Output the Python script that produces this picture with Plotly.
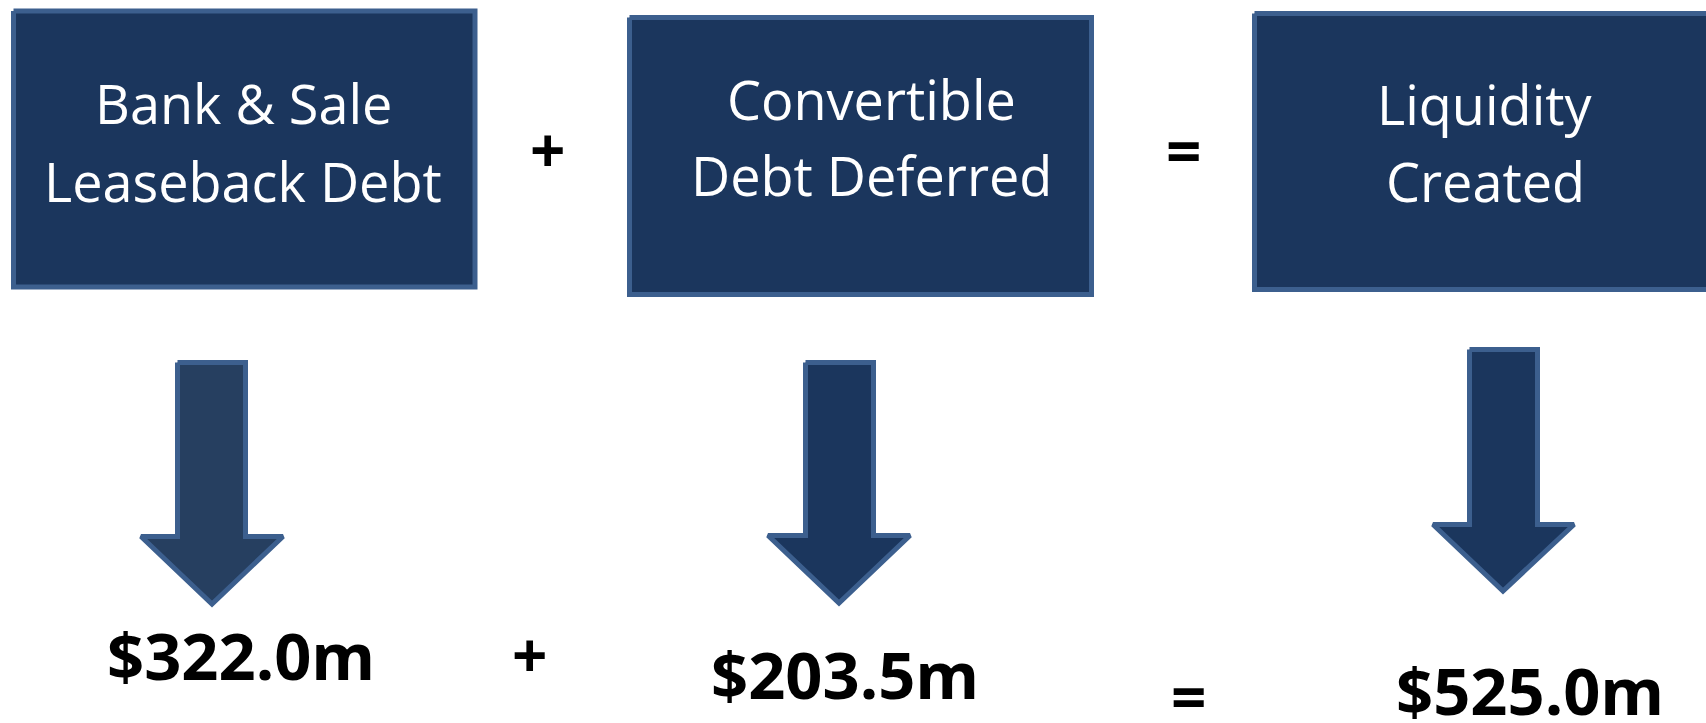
import plotly.graph_objects as go

# ---- data ----
labels = [["Bank & Sale", "Leaseback Debt"],
          ["Convertible", "Debt Deferred"],
          ["Liquidity", "Created"]]
amounts = [322.0, 203.5, 525.0]          # $ millions
operators = ["+", "="]

# ---- layout geometry (pixels, y downward) ----
W, H = 1706, 723
boxes = [(13.5, 475, 11, 287), (629.5, 1091.5, 17.5, 294.5), (1254.5, 1730, 13.5, 289.5)]
label_x = [243, 871, 1485]
label_y = [(103, 181), (99, 175), (104, 181)]
# arrow: shaft_left, shaft_right, top, head_top, head_left, head_right, tip_x, tip_y
arrows = [(177.5, 245.5, 362.5, 536.5, 141, 283, 212, 604),
          (805.5, 873.5, 362.5, 535.5, 768, 910, 839, 603),
          (1469.5, 1537.5, 349.5, 524.5, 1433, 1574, 1503, 591)]
arrow_fill = ["#263f60", "#1b365d", "#1b365d"]
value_xy = [(241, 655), (845, 674), (1530, 690)]
op_top_xy = [(547, 149), (1183, 150)]
op_bot_xy = [(529, 654), (1188, 696)]

BOX_FILL = "#1b365d"
EDGE = "#3c5f8e"

fig = go.Figure()

for (x0, x1, y0, y1) in boxes:
    fig.add_trace(go.Scatter(x=[x0, x1, x1, x0, x0], y=[y0, y0, y1, y1, y0],
                             mode="lines", fill="toself", fillcolor=BOX_FILL,
                             line=dict(color=EDGE, width=5), hoverinfo="skip",
                             showlegend=False))

for (sl, sr, top, ht, hl, hr, tx, ty), fc in zip(arrows, arrow_fill):
    xs = [sl, sr, sr, hr, tx, hl, sl, sl]
    ys = [top, top, ht, ht, ty, ht, ht, top]
    fig.add_trace(go.Scatter(x=xs, y=ys, mode="lines", fill="toself", fillcolor=fc,
                             line=dict(color=EDGE, width=5), hoverinfo="skip",
                             showlegend=False))

annotations = []
for lines, x, ys in zip(labels, label_x, label_y):
    for line, y in zip(lines, ys):
        annotations.append(dict(x=x, y=y, text=line, showarrow=False,
                                xanchor="center", yanchor="middle",
                                font=dict(family="Open Sans", size=54, color="white")))

for v, (x, y) in zip(amounts, value_xy):
    annotations.append(dict(x=x, y=y, text=f"<b>${v:.1f}m</b>", showarrow=False,
                            xanchor="center", yanchor="middle",
                            font=dict(family="Open Sans", size=65, color="black")))

for op, (x, y) in zip(operators, op_top_xy):
    annotations.append(dict(x=x, y=y, text=f"<b>{op}</b>", showarrow=False,
                            xanchor="center", yanchor="middle",
                            font=dict(family="Open Sans", size=62, color="black")))
for op, (x, y) in zip(operators, op_bot_xy):
    annotations.append(dict(x=x, y=y, text=f"<b>{op}</b>", showarrow=False,
                            xanchor="center", yanchor="middle",
                            font=dict(family="Open Sans", size=62, color="black")))

fig.update_layout(
    width=W, height=H, margin=dict(l=0, r=0, t=0, b=0),
    paper_bgcolor="white", plot_bgcolor="white",
    xaxis=dict(range=[0, W], visible=False, fixedrange=True),
    yaxis=dict(range=[H, 0], visible=False, fixedrange=True),
    annotations=annotations, showlegend=False,
)

fig.write_html("out.html", config={"displayModeBar": False},
               post_script="document.body.style.margin='0';"
                           "document.body.style.overflow='hidden';")
